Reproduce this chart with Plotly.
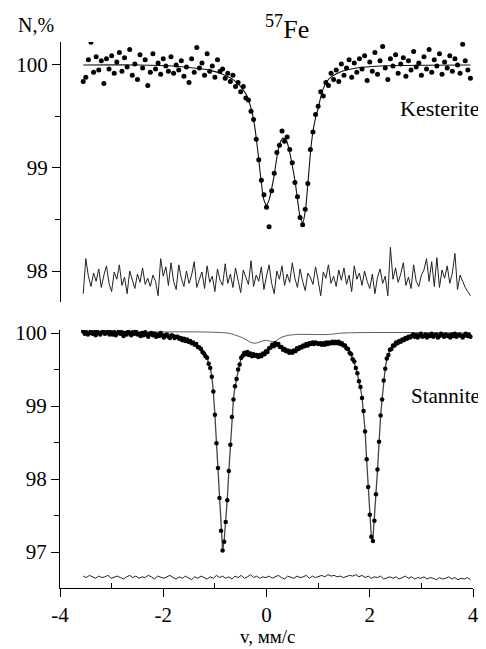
import plotly.graph_objects as go

# ---------------- Kesterite (top panel) ----------------
V_TOP = [-3.55,-3.50,-3.45,-3.40,-3.35,-3.30,-3.25,-3.20,-3.15,-3.10,
-3.05,-3.00,-2.95,-2.90,-2.85,-2.80,-2.75,-2.70,-2.65,-2.60,
-2.55,-2.50,-2.45,-2.40,-2.35,-2.30,-2.25,-2.20,-2.15,-2.10,
-2.05,-2.00,-1.95,-1.90,-1.85,-1.80,-1.75,-1.70,-1.65,-1.60,
-1.55,-1.50,-1.45,-1.40,-1.35,-1.30,-1.25,-1.20,-1.15,-1.10,
-1.05,-1.00,-0.95,-0.90,-0.85,-0.80,-0.75,-0.70,-0.65,-0.60,
-0.55,-0.50,-0.45,-0.40,-0.35,-0.30,-0.25,-0.20,-0.15,-0.10,
-0.05,0.00,0.05,0.10,0.15,0.20,0.25,0.30,0.35,0.40,
0.45,0.50,0.55,0.60,0.65,0.70,0.75,0.80,0.85,0.90,
0.95,1.00,1.05,1.10,1.15,1.20,1.25,1.30,1.35,1.40,
1.45,1.50,1.55,1.60,1.65,1.70,1.75,1.80,1.85,1.90,
1.95,2.00,2.05,2.10,2.15,2.20,2.25,2.30,2.35,2.40,
2.45,2.50,2.55,2.60,2.65,2.70,2.75,2.80,2.85,2.90,
2.95,3.00,3.05,3.10,3.15,3.20,3.25,3.30,3.35,3.40,
3.45,3.50,3.55,3.60,3.65,3.70,3.75,3.80,3.85,3.90,
3.95]

N_TOP = [99.84,99.88,100.05,100.22,99.93,100.08,99.95,100.04,99.82,100.06,
99.96,100.09,99.92,100.03,100.12,99.94,100.07,99.98,100.15,99.90,
100.01,99.86,100.10,99.97,100.05,99.80,99.93,100.11,99.96,100.02,
99.91,100.06,99.99,99.94,100.08,99.92,100.00,99.95,100.04,99.89,
99.98,99.83,100.06,99.93,100.17,99.97,100.02,99.90,100.11,99.94,
99.99,99.88,100.05,99.94,99.96,99.87,99.92,99.84,99.90,99.79,
99.83,99.74,99.79,99.68,99.66,99.55,99.47,99.28,99.08,98.88,
98.74,98.62,98.43,98.78,98.95,99.15,99.22,99.36,99.26,99.30,
99.18,99.05,98.86,98.72,98.52,98.45,98.60,98.85,99.18,99.35,
99.52,99.60,99.74,99.70,99.83,99.80,99.92,99.86,99.95,99.84,
100.01,99.90,99.97,100.05,99.88,100.02,99.93,100.06,99.96,100.09,
99.85,100.03,99.94,100.12,99.91,100.04,100.18,99.97,99.86,100.06,
99.99,100.10,99.92,100.01,100.07,99.89,100.04,99.95,100.13,99.98,
100.02,99.90,100.08,99.96,100.15,99.93,100.05,99.99,100.11,99.91,
100.03,99.97,100.09,99.94,100.06,100.00,99.92,100.20,100.04,99.95,
99.87]

R_TOP = [97.78,98.12,97.95,97.85,97.98,97.90,98.02,97.84,97.96,98.05,
97.88,97.80,97.99,97.92,98.06,97.86,97.94,97.78,98.00,97.91,
97.83,97.97,97.89,98.03,97.87,97.93,97.85,97.96,97.90,97.76,
98.12,97.95,98.04,97.86,98.08,97.90,97.82,98.06,97.93,97.85,
98.00,97.88,97.96,98.09,97.84,97.92,97.99,97.83,98.05,97.89,
97.95,97.80,98.02,97.91,97.86,98.07,97.88,97.97,97.84,98.03,
97.90,97.79,98.01,97.93,97.87,98.10,97.85,97.96,97.90,98.04,
97.82,97.95,98.06,97.88,97.78,98.00,97.92,98.05,97.86,97.97,
97.89,98.08,97.93,97.84,98.02,97.90,97.81,97.98,97.94,97.87,
98.04,97.91,97.76,97.99,97.93,98.06,97.88,97.95,97.85,98.01,
97.91,98.03,97.87,97.96,97.80,98.05,97.92,97.98,97.86,98.00,
97.90,97.83,97.97,97.78,97.94,98.02,97.88,97.95,97.76,98.23,
97.92,98.03,97.89,97.97,98.08,97.86,97.94,97.83,98.06,97.90,
97.85,97.96,98.01,98.12,97.90,98.09,97.85,98.13,97.84,98.01,
97.93,98.05,97.88,97.98,98.17,97.82,97.96,97.90,97.84,97.80,
97.76]

V_FIT_TOP = [-3.55,-2.50,-1.80,-1.40,-1.10,-0.85,-0.65,-0.50,-0.39,-0.30,-0.24,-0.17,
-0.10,-0.05,0.00,0.05,0.10,0.15,0.20,0.26,0.32,0.38,0.44,0.50,0.55,0.60,0.65,0.70,
0.75,0.80,0.87,0.93,1.00,1.10,1.22,1.42,1.74,2.20,3.95]
N_FIT_TOP = [100.00,100.00,99.99,99.97,99.95,99.91,99.86,99.79,99.71,99.58,99.44,99.17,
98.86,98.69,98.64,98.69,98.80,98.93,99.10,99.24,99.29,99.27,99.17,99.02,98.88,98.70,98.53,98.47,
98.58,98.84,99.24,99.44,99.58,99.77,99.87,99.93,99.97,99.99,100.00]

# ---------------- Stannite (bottom panel) ----------------
V_BOT = [-3.55,-3.52,-3.49,-3.46,-3.43,-3.40,-3.37,-3.34,-3.31,-3.28,
-3.25,-3.22,-3.19,-3.16,-3.13,-3.10,-3.07,-3.04,-3.01,-2.98,
-2.95,-2.92,-2.89,-2.86,-2.83,-2.80,-2.77,-2.74,-2.71,-2.68,
-2.65,-2.62,-2.59,-2.56,-2.53,-2.50,-2.47,-2.44,-2.41,-2.38,
-2.35,-2.32,-2.29,-2.26,-2.23,-2.20,-2.17,-2.14,-2.11,-2.08,
-2.05,-2.02,-1.99,-1.96,-1.93,-1.90,-1.87,-1.84,-1.81,-1.78,
-1.75,-1.72,-1.69,-1.66,-1.63,-1.60,-1.57,-1.54,-1.51,-1.48,
-1.45,-1.42,-1.39,-1.36,-1.33,-1.30,-1.27,-1.24,-1.21,-1.18,
-1.15,-1.12,-1.09,-1.06,-1.03,-1.00,-0.97,-0.94,-0.91,-0.88,
-0.85,-0.82,-0.79,-0.76,-0.73,-0.70,-0.67,-0.64,-0.61,-0.58,
-0.55,-0.52,-0.49,-0.46,-0.43,-0.40,-0.37,-0.34,-0.31,-0.28,
-0.25,-0.22,-0.19,-0.16,-0.13,-0.10,-0.07,-0.04,-0.01,0.02,
0.05,0.08,0.11,0.14,0.17,0.20,0.23,0.26,0.29,0.32,
0.35,0.38,0.41,0.44,0.47,0.50,0.53,0.56,0.59,0.62,
0.65,0.68,0.71,0.74,0.77,0.80,0.83,0.86,0.89,0.92,
0.95,0.98,1.01,1.04,1.07,1.10,1.13,1.16,1.19,1.22,
1.25,1.28,1.31,1.34,1.37,1.40,1.43,1.46,1.49,1.52,
1.55,1.58,1.61,1.64,1.67,1.70,1.73,1.76,1.79,1.82,
1.85,1.88,1.91,1.94,1.97,2.00,2.03,2.06,2.09,2.12,
2.15,2.18,2.21,2.24,2.27,2.30,2.33,2.36,2.39,2.42,
2.45,2.48,2.51,2.54,2.57,2.60,2.63,2.66,2.69,2.72,
2.75,2.78,2.81,2.84,2.87,2.90,2.93,2.96,2.99,3.02,
3.05,3.08,3.11,3.14,3.17,3.20,3.23,3.26,3.29,3.32,
3.35,3.38,3.41,3.44,3.47,3.50,3.53,3.56,3.59,3.62,
3.65,3.68,3.71,3.74,3.77,3.80,3.83,3.86,3.89,3.92,
3.95]

N_BOT = [100.02,99.99,100.01,99.98,100.00,100.03,99.99,100.01,99.97,100.02,
100.00,99.98,100.01,100.02,99.99,100.00,100.03,99.98,100.01,99.98,
100.01,99.97,100.00,100.02,99.99,100.01,99.96,100.00,99.98,100.02,
100.00,99.97,100.01,99.99,100.02,99.98,99.99,99.96,100.00,99.97,
100.01,99.98,99.95,99.99,100.00,99.97,99.99,99.95,99.98,99.96,
100.00,99.97,99.94,99.97,99.98,99.95,99.93,99.97,99.96,99.93,
99.95,99.95,99.92,99.93,99.90,99.92,99.89,99.91,99.88,99.89,
99.86,99.87,99.84,99.85,99.81,99.80,99.78,99.74,99.72,99.68,
99.66,99.58,99.52,99.40,99.20,98.88,98.49,98.15,97.74,97.29,
97.02,97.14,97.41,97.71,98.11,98.47,98.85,99.09,99.27,99.37,
99.50,99.57,99.66,99.69,99.73,99.71,99.74,99.70,99.72,99.68,
99.71,99.69,99.70,99.67,99.70,99.68,99.72,99.71,99.75,99.74,
99.79,99.80,99.84,99.82,99.86,99.84,99.85,99.81,99.81,99.77,
99.78,99.75,99.76,99.73,99.75,99.73,99.76,99.75,99.79,99.78,
99.81,99.80,99.83,99.82,99.85,99.83,99.86,99.85,99.87,99.85,
99.87,99.86,99.85,99.86,99.84,99.86,99.84,99.87,99.85,99.87,
99.86,99.88,99.86,99.88,99.86,99.88,99.85,99.86,99.83,99.83,
99.79,99.78,99.73,99.71,99.64,99.61,99.52,99.45,99.34,99.26,
99.11,98.93,98.65,98.27,97.89,97.51,97.21,97.15,97.43,97.79,
98.13,98.51,98.87,99.09,99.35,99.51,99.65,99.70,99.77,99.78,
99.83,99.83,99.87,99.86,99.89,99.88,99.91,99.90,99.93,99.92,
99.95,99.94,99.96,99.98,99.95,99.97,99.94,99.97,99.99,99.95,
99.96,99.98,99.94,99.97,99.96,99.99,99.95,99.97,99.98,99.94,
99.96,99.99,99.97,99.95,99.98,99.96,99.97,99.94,99.98,99.96,
99.99,99.95,99.97,99.98,99.96,99.94,99.97,99.99,99.96,99.98,
99.95]

V_FIT_BOT = [-3.55,-3.00,-2.50,-2.20,-2.00,-1.85,-1.75,-1.66,-1.57,-1.48,
-1.45,-1.42,-1.39,-1.36,-1.33,-1.30,-1.27,-1.24,-1.21,-1.18,-1.15,-1.12,-1.09,-1.06,
-1.03,-1.00,-0.97,-0.94,-0.91,-0.88,-0.85,-0.82,-0.79,-0.76,-0.73,-0.70,-0.67,-0.64,
-0.61,-0.58,-0.55,-0.52,-0.49,-0.46,-0.43,-0.40,-0.31,-0.19,-0.10,-0.01,0.08,0.17,
0.26,0.35,0.47,0.59,0.71,0.83,0.95,1.10,1.25,1.40,1.43,1.46,1.49,1.52,1.55,1.58,
1.61,1.64,1.67,1.70,1.73,1.76,1.79,1.82,1.85,1.88,1.91,1.94,1.97,2.00,2.03,2.06,
2.09,2.12,2.15,2.18,2.21,2.24,2.27,2.30,2.33,2.36,2.39,2.42,2.45,2.51,2.60,2.69,
2.78,3.00,3.95]
N_FIT_BOT = [100.00,100.00,99.99,99.98,99.97,99.96,99.95,99.92,99.90,99.88,
99.87,99.86,99.85,99.84,99.82,99.80,99.77,99.75,99.72,99.69,99.65,99.59,99.52,99.41,
99.20,98.88,98.50,98.14,97.75,97.30,97.02,97.16,97.40,97.72,98.10,98.48,98.85,99.10,
99.26,99.38,99.49,99.58,99.65,99.70,99.72,99.73,99.71,99.69,99.70,99.74,99.81,99.85,
99.82,99.77,99.74,99.78,99.82,99.85,99.86,99.85,99.87,99.87,99.86,99.85,99.84,99.82,99.80,99.77,
99.74,99.70,99.65,99.60,99.53,99.44,99.35,99.25,99.12,98.92,98.66,98.26,97.90,97.50,97.22,97.16,
97.42,97.80,98.12,98.52,98.86,99.10,99.34,99.52,99.64,99.71,99.76,99.79,99.82,99.86,99.89,99.92,
99.95,99.96,99.96]

V_COMP = [-3.55,-0.77,-0.60,-0.45,-0.33,-0.23,-0.12,-0.02,0.06,0.14,0.22,0.32,0.45,0.60,1.20,1.50,3.95]
N_COMP = [100.00,100.00,99.97,99.93,99.88,99.86,99.88,99.90,99.89,99.88,99.91,99.95,99.97,99.98,99.98,100.00,100.00]

R_BOT = [96.67,96.65,96.68,96.66,96.64,96.67,96.65,96.66,96.68,96.64,
96.66,96.67,96.65,96.63,96.66,96.68,96.65,96.67,96.64,96.66,
96.65,96.68,96.66,96.63,96.67,96.65,96.64,96.66,96.68,96.65,
96.63,96.66,96.64,96.67,96.65,96.62,96.66,96.64,96.67,96.65,
96.63,96.66,96.64,96.68,96.65,96.67,96.64,96.66,96.63,96.67,
96.65,96.68,96.64,96.66,96.69,96.65,96.67,96.64,96.66,96.65,
96.67,96.64,96.66,96.68,96.65,96.63,96.67,96.66,96.64,96.67,
96.65,96.66,96.68,96.64,96.67,96.65,96.66,96.68,96.66,96.69,
96.67,96.68,96.66,96.67,96.65,96.66,96.68,96.67,96.69,96.66,
96.68,96.65,96.67,96.64,96.66,96.65,96.67,96.63,96.65,96.66,
96.64,96.66,96.63,96.65,96.67,96.64,96.66,96.63,96.65,96.64,
96.66,96.63,96.65,96.64,96.62,96.65,96.63,96.64,96.66,96.63,
96.65,96.62,96.64,96.63,96.65,96.62]
V_RES_BOT = V_BOT[::2]

X_TICKS = [-4, -2, 0, 2, 4]
X_MINOR = [-3, -1, 1, 3]
Y_TOP_TICKS = [98, 99, 100]
Y_TOP_MINOR = [98.5, 99.5]
Y_BOT_TICKS = [97, 98, 99, 100]
Y_BOT_MINOR = [97.5, 98.5, 99.5]

checks = {"top": (len(V_TOP), len(N_TOP), len(R_TOP)), "fit_top": (len(V_FIT_TOP), len(N_FIT_TOP)),
          "bot": (len(V_BOT), len(N_BOT)), "fit_bot": (len(V_FIT_BOT), len(N_FIT_BOT)),
          "comp": (len(V_COMP), len(N_COMP)), "res_bot": (len(V_RES_BOT), len(R_BOT))}
for k, v in checks.items():
    if len(set(v)) != 1:
        raise SystemExit(f"length mismatch {k}: {v}")

FONT = "Liberation Serif"
fig = go.Figure()

# top panel
fig.add_trace(go.Scatter(x=V_TOP, y=R_TOP, yaxis="y2", mode="lines",
                         line=dict(color="#222", width=1)))
fig.add_trace(go.Scatter(x=V_FIT_TOP, y=N_FIT_TOP, yaxis="y2", mode="lines",
                         line=dict(color="#111", width=1.1, shape="spline")))
fig.add_trace(go.Scatter(x=V_TOP, y=N_TOP, yaxis="y2", mode="markers",
                         marker=dict(color="black", size=5)))

# bottom panel
fig.add_trace(go.Scatter(x=V_RES_BOT, y=R_BOT, yaxis="y", mode="lines",
                         line=dict(color="#222", width=1)))
fig.add_trace(go.Scatter(x=V_COMP, y=N_COMP, yaxis="y", mode="lines",
                         line=dict(color="#333", width=0.8, shape="spline")))
fig.add_trace(go.Scatter(x=V_FIT_BOT, y=N_FIT_BOT, yaxis="y", mode="lines",
                         line=dict(color="#444", width=1.3)))
fig.add_trace(go.Scatter(x=V_BOT, y=N_BOT, yaxis="y", mode="markers",
                         marker=dict(color="black", size=4.5)))

axis_common = dict(showline=True, linecolor="black", linewidth=1, showgrid=False,
                   zeroline=False, ticks="outside", tickcolor="black", automargin=False,
                   tickfont=dict(family=FONT, size=21, color="black"))

# The page adds an 8 px body margin, so the figure is 8 px smaller than the window.
fig.update_layout(
    width=478, height=641,
    margin=dict(l=52, r=13, t=34, b=61),
    paper_bgcolor="white", plot_bgcolor="white",
    showlegend=False,
    font=dict(family=FONT, color="black"),
    xaxis=dict(range=[-4, 4], anchor="y", tickvals=X_TICKS,
               ticktext=[str(t) for t in X_TICKS], ticklen=8,
               minor=dict(tickvals=X_MINOR, ticks="inside", ticklen=5, tickcolor="black"),
               **axis_common),
    yaxis=dict(domain=[0, 0.4725], range=[96.507, 100.041], anchor="x",
               tickvals=Y_BOT_TICKS, ticklen=8,
               minor=dict(tickvals=Y_BOT_MINOR, ticks="outside", ticklen=5, tickcolor="black"),
               **axis_common),
    yaxis2=dict(domain=[0.5238, 1], range=[97.699, 100.223], anchor="free", position=0,
                tickvals=Y_TOP_TICKS, ticklen=8,
                minor=dict(tickvals=Y_TOP_MINOR, ticks="outside", ticklen=5, tickcolor="black"),
                **axis_common),
    annotations=[
        dict(text="N,%", xref="paper", yref="paper", x=-0.1065, y=1.031,
             xanchor="left", yanchor="middle", showarrow=False,
             font=dict(family=FONT, size=20, color="black")),
        dict(text="<sup>57</sup>Fe", xref="paper", yref="paper", x=0.55, y=1.027,
             xanchor="center", yanchor="middle", showarrow=False,
             font=dict(family=FONT, size=26, color="black")),
        dict(text="Kesterite", xref="paper", yref="paper", x=0.818, y=0.879,
             xanchor="left", yanchor="middle", showarrow=False,
             font=dict(family=FONT, size=22, color="black")),
        dict(text="Stannite", xref="paper", yref="paper", x=0.845, y=0.352,
             xanchor="left", yanchor="middle", showarrow=False,
             font=dict(family=FONT, size=21, color="black")),
        dict(text="v, мм/с", xref="paper", yref="paper", x=0.504, y=-0.0897,
             xanchor="center", yanchor="middle", showarrow=False,
             font=dict(family=FONT, size=19, color="black")),
    ],
)

fig.write_html("out.html")
